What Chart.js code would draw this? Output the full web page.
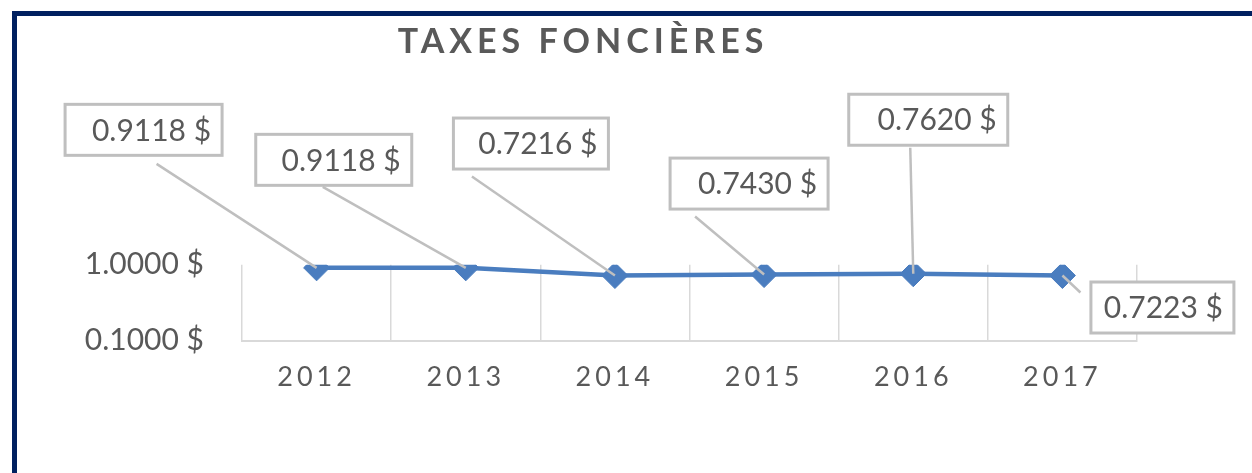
<!DOCTYPE html>
<html lang="fr">
<head>
<meta charset="utf-8">
<title>Taxes foncières</title>
<script src="https://cdn.jsdelivr.net/npm/chart.js@4.4.0/dist/chart.umd.min.js"></script>
<style>
  html, body { margin: 0; padding: 0; background: #fff; }
  #cadre {
    position: absolute; left: 12px; top: 11px;
    width: 1235px; height: 457px;
    border-left: 5px solid #002060;
    border-top: 5px solid #002060;
  }
</style>
</head>
<body>
<div id="cadre"><canvas id="graphique"></canvas></div>
<script>
// Données du graphique
const titre = 'TAXES FONCIÈRES';
const annees = ['2012', '2013', '2014', '2015', '2016', '2017'];
const taux = [0.9118, 0.9118, 0.7216, 0.7430, 0.7620, 0.7223];
const graduationsY = [0.1, 1];

// placement des étiquettes, relatif à chaque point :
// centre de la boîte (dx, dy), largeur w, départ du trait de rappel (lx, ly)
const placement = [
  { dx: -173, dy: -138, w: 157, lx: -160, ly: -104 },
  { dx: -132, dy: -108, w: 156, lx: -143, ly: -81 },
  { dx: -84,  dy: -132, w: 155, lx: -143, ly: -99 },
  { dx: -15,  dy: -91,  w: 158, lx: -69,  ly: -58 },
  { dx: 15,   dy: -154, w: 159, lx: -3,   ly: -126 },
  { dx: 100,  dy: 32,   w: 143, lx: 18,   ly: 17 }
];

const gris = '#595959';
const bleu = '#4a7dbf';

// espacement des lettres pour le titre et les années
function espacer(obj, methode, espace) {
  if (obj[methode]._espace) return;
  const orig = obj[methode];
  obj[methode] = function (...args) {
    const c = this.ctx;
    c.save();
    c.letterSpacing = espace;
    orig.apply(this, args);
    c.restore();
  };
  obj[methode]._espace = true;
}

const etiquettesPlugin = {
  id: 'etiquettes',
  afterLayout(chart) {
    espacer(chart.scales.x, 'drawLabels', '4px');
    if (chart.titleBlock) espacer(chart.titleBlock, 'draw', '5px');
  },
  afterDatasetsDraw(chart) {
    const ctx = chart.ctx;
    const meta = chart.getDatasetMeta(0);
    const h = 51;
    ctx.save();
    ctx.strokeStyle = '#bfbfbf';
    ctx.font = '30px Lato';
    ctx.textAlign = 'right';
    ctx.textBaseline = 'middle';
    meta.data.forEach((pt, i) => {
      const p = placement[i];
      // trait de rappel
      ctx.lineWidth = 2.5;
      ctx.beginPath();
      ctx.moveTo(pt.x + p.lx, pt.y + p.ly);
      ctx.lineTo(pt.x, pt.y);
      ctx.stroke();
      // boîte
      const bx = pt.x + p.dx - p.w / 2;
      const by = pt.y + p.dy - h / 2;
      ctx.fillStyle = '#fff';
      ctx.fillRect(bx, by, p.w, h);
      ctx.lineWidth = 3;
      ctx.strokeRect(bx, by, p.w, h);
      ctx.fillStyle = gris;
      ctx.fillText(taux[i].toFixed(4) + ' $', bx + p.w - 11, by + h / 2 + 1);
    });
    ctx.restore();
  }
};

new Chart(document.getElementById('graphique'), {
  type: 'line',
  data: {
    labels: annees,
    datasets: [{
      data: taux,
      borderColor: bleu,
      backgroundColor: bleu,
      borderWidth: 4.5,
      pointStyle: 'rectRot',
      pointRadius: 13,
      pointBorderWidth: 1,
      tension: 0
    }]
  },
  options: {
    responsive: true,
    maintainAspectRatio: false,
    animation: false,
    layout: { padding: { left: 12, right: 115, top: 0, bottom: 60 } },
    plugins: {
      legend: { display: false },
      tooltip: { enabled: false },
      title: {
        display: true,
        text: titre,
        color: gris,
        font: { family: 'Lato', size: 34, weight: 'bold' },
        padding: { top: 6, bottom: 202 }
      }
    },
    scales: {
      x: {
        offset: true,
        grid: { offset: true, color: '#d9d9d9', lineWidth: 1.5, drawTicks: false },
        border: { color: '#d9d9d9', width: 2 },
        ticks: { color: gris, font: { family: 'Lato', size: 27 }, padding: 20 }
      },
      y: {
        type: 'logarithmic',
        min: 0.1,
        max: 1,
        grid: { display: false },
        border: { display: false },
        afterBuildTicks: s => { s.ticks = graduationsY.map(v => ({ value: v })); },
        afterFit: s => { s.width = 213; },
        ticks: {
          color: gris,
          font: { family: 'Lato', size: 30 },
          padding: 30,
          callback: v => Number(v).toFixed(4) + ' $'
        }
      }
    }
  },
  plugins: [etiquettesPlugin]
});
</script>
</body>
</html>
